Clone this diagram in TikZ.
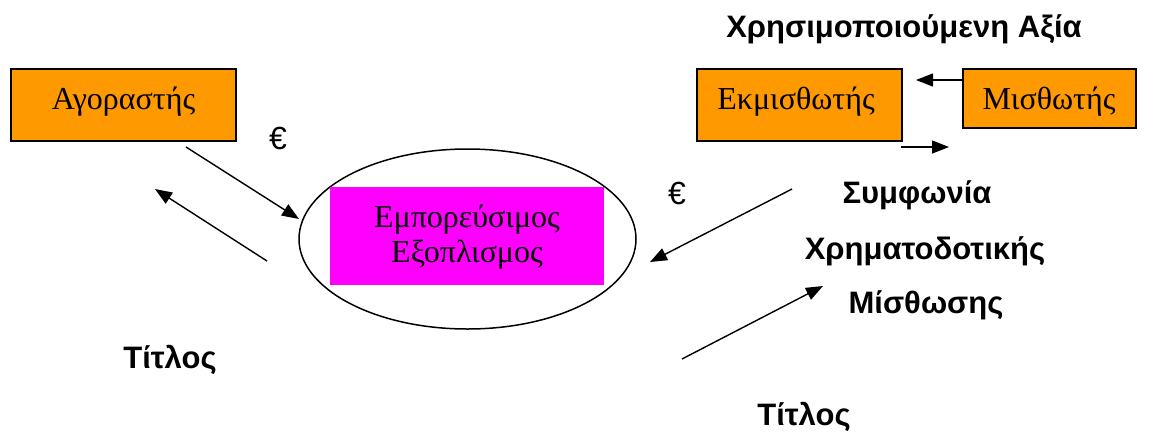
\documentclass[tikz,border=0pt]{standalone}
\usepackage{fontspec}
\setmainfont{Liberation Serif}
\newfontfamily\labelfont{Liberation Sans}
\usetikzlibrary{arrows.meta,shapes.geometric}
\definecolor{boxorange}{HTML}{FF9900}
\definecolor{itemmagenta}{HTML}{FF00FF}
\tikzset{
  party/.style={draw=black,line width=1.5pt,fill=boxorange,inner sep=0pt},
  serifname/.style={anchor=base,inner sep=0pt,font=\fontsize{32}{36}\selectfont},
  boldlabel/.style={anchor=base,inner sep=0pt,font=\labelfont\bfseries\fontsize{31}{36}\selectfont},
  money/.style={anchor=base,inner sep=0pt,font=\labelfont\fontsize{32}{36}\selectfont},
  flow/.style={line width=1.4pt,-{Triangle[length=17pt,width=13pt]}}
}
\begin{document}
\begin{tikzpicture}[x=1pt,y=-1pt]
\useasboundingbox (0,0) rectangle (1154,432);

% parties
\node[party,minimum width=225pt,minimum height=72pt] (buyer) at (123.5,105) {};
\node[serifname] (buyert) at (123.5,109) {Αγοραστής};
\node[party,minimum width=205pt,minimum height=72pt] (lessor) at (799.5,105) {};
\node[serifname] (lessort) at (796,109) {Εκμισθωτής};
\node[party,minimum width=173pt,minimum height=59pt] (lessee) at (1049.5,98.5) {};
\node[serifname] (lesseet) at (1049,109) {Μισθωτής};

% traded equipment
\node[draw=black,line width=1.5pt,ellipse,minimum width=337pt,minimum height=180pt,inner sep=0pt] (market) at (467.5,239) {};
\node[fill=itemmagenta,minimum width=274pt,minimum height=98pt,inner sep=0pt] (item) at (467,236) {};
\node[serifname] (itemA) at (467,227) {Εμπορεύσιμος};
\node[serifname] (itemB) at (467,262) {Εξοπλισμος};

% labels
\node[boldlabel] (value) at (904,37) {Χρησιμοποιούμενη Αξία};
\node[boldlabel] (agr1) at (917,203) {Συμφωνία};
\node[boldlabel] (agr2) at (925,259) {Χρηματοδοτικής};
\node[boldlabel] (agr3) at (926,313) {Μίσθωσης};
\node[boldlabel] (titleL) at (170,368) {Τίτλος};
\node[boldlabel] (titleR) at (804,425) {Τίτλος};
\node[money] (euroL) at (278,149) {€};
\node[money] (euroR) at (677,204) {€};

% arrow end points
\coordinate (a1s) at (186,147);  \coordinate (a1e) at (299,219);
\coordinate (a2s) at (267,261);  \coordinate (a2e) at (155,189);
\coordinate (a3s) at (963,80);   \coordinate (a3e) at (916,80);
\coordinate (a4s) at (901,147);  \coordinate (a4e) at (949,147);
\coordinate (a5s) at (792,189);  \coordinate (a5e) at (650,262);
\coordinate (a6s) at (682,359);  \coordinate (a6e) at (823,286);

\draw[flow] (a1s) -- (a1e);
\draw[flow] (a2s) -- (a2e);
\draw[flow] (a3s) -- (a3e);
\draw[flow] (a4s) -- (a4e);
\draw[flow] (a5s) -- (a5e);
\draw[flow] (a6s) -- (a6e);
\end{tikzpicture}
\end{document}
